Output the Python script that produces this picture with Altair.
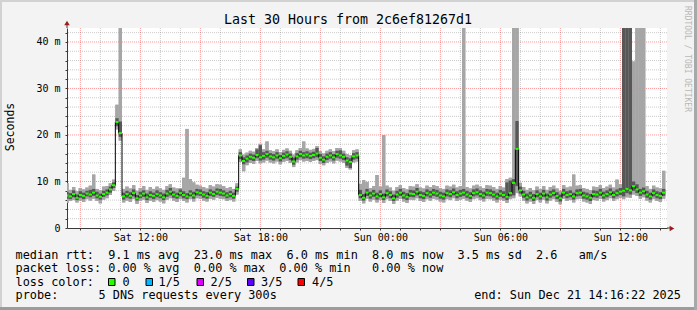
import altair as alt
import pandas as pd

FONT = "DejaVu Sans Mono"

# ---------------- text content ----------------
title_text = "Last 30 Hours from 2c6ef81267d1"
y_label = "Seconds"
watermark = "RRDTOOL / TOBI OETIKER"
rtt_line = "median rtt:  9.1 ms avg  23.0 ms max  6.0 ms min  8.0 ms now  3.5 ms sd  2.6   am/s"
loss_line = "packet loss: 0.00 % avg  0.00 % max  0.00 % min   0.00 % now"
loss_color_label = "loss color:"
loss_names = ["0", "1/5", "2/5", "3/5", "4/5"]
loss_colors = ["#26ff00", "#00b8ff", "#dd00ff", "#5e00ff", "#ff0000"]
probe_label = "probe:"
probe_text = "5 DNS requests every 300s"
end_text = "end: Sun Dec 21 14:16:22 2025"

# ---------------- data (ms), one sample per 10 minutes ----------------
first_sample = "2025-12-20 08:15:00"
step_minutes = 10

median_ms = [
    7.0, 6.8, 7.3, 6.5, 7.1, 6.9, 7.4, 7.2, 7.6, 7.0, 6.7, 7.3, 7.6, 8.3, 9.2, 22.8, 20.4,
    6.8, 7.3, 6.9, 7.5, 6.4, 7.0, 7.4, 6.6, 7.1, 6.9, 7.3, 7.0, 6.6, 7.4, 7.8, 7.2, 6.9, 7.5,
    7.1, 6.8, 7.4, 7.0, 7.7, 7.5, 7.2, 6.9, 7.6, 7.3, 7.8, 7.6, 7.4, 7.0, 7.3, 6.9, 8.4,
    15.6, 14.4, 14.9, 15.3, 15.1, 15.7, 15.2, 15.5, 15.9, 15.4, 15.2, 15.6, 15.0, 15.5, 15.8,
    15.3, 14.3, 15.4, 15.9, 15.6, 15.8, 15.5, 15.7, 16.0, 15.1, 14.7, 15.3, 15.6, 15.2, 15.9,
    15.6, 15.3, 14.5, 14.2, 15.4, 15.6,
    7.1, 6.5, 7.6, 7.0, 7.4, 6.8, 7.3, 6.6, 7.5, 7.1, 6.4, 7.2,
    7.6, 7.0, 6.7, 7.4, 7.3, 7.8, 7.1, 6.9, 7.5, 7.2,
    7.6, 7.4, 7.0, 6.8, 7.5, 7.3, 7.7, 7.1, 7.4, 7.6,
    7.2, 6.9, 7.5, 7.7, 7.3, 7.0, 7.6, 7.5, 7.2, 6.8,
    7.4, 7.1, 6.7, 7.5, 9.7, 17.0, 8.1, 7.2, 6.6, 7.0,
    6.5, 7.3, 6.8, 7.4, 6.6, 7.2, 7.5, 6.9, 6.4, 7.6,
    7.1, 7.3, 6.8, 7.5, 7.6, 7.0, 6.8, 6.5, 7.3, 7.2,
    7.6, 7.0, 7.3, 7.7, 7.1, 7.5, 7.8, 8.0, 8.4, 8.1,
    9.0, 8.3, 7.6, 7.9, 7.2, 6.8, 7.5, 7.1, 6.9, 7.6,
]

dark_low = [
    6.3, 6.2, 6.6, 6.0, 6.5, 6.2, 6.8, 6.6, 6.9, 6.4, 6.1, 6.7, 7.0, 7.6, 8.6, 21.9, 19.6,
    6.1, 6.5, 6.3, 6.8, 5.9, 6.4, 6.7, 6.0, 6.5, 6.2, 6.6, 6.4, 6.0, 6.7, 7.0, 6.5, 6.3, 6.8,
    6.4, 6.2, 6.8, 6.3, 7.0, 6.9, 6.5, 6.3, 6.9, 6.7, 7.1, 6.9, 6.8, 6.4, 6.6, 6.3, 7.8,
    14.8, 13.7, 14.1, 14.6, 14.4, 15.0, 14.5, 14.7, 15.1, 14.7, 14.5, 14.9, 14.3, 14.8, 15.0,
    14.6, 13.6, 14.7, 15.2, 14.9, 15.0, 14.8, 15.0, 15.2, 14.4, 14.0, 14.6, 14.9, 14.5, 15.1,
    14.9, 14.6, 13.4, 12.9, 14.7, 14.9,
    6.4, 5.9, 6.9, 6.3, 6.7, 6.1, 6.6, 6.0, 6.8, 6.4, 5.8, 6.5,
    6.9, 6.3, 6.0, 6.7, 6.6, 7.0, 6.4, 6.2, 6.8, 6.5,
    6.9, 6.7, 6.3, 6.1, 6.8, 6.6, 7.0, 6.4, 6.7, 6.9,
    6.5, 6.2, 6.8, 7.0, 6.6, 6.3, 6.9, 6.8, 6.5, 6.1,
    6.7, 6.4, 6.0, 6.8, 7.0, 9.0, 7.4, 6.5, 5.9, 6.3,
    5.8, 6.6, 6.1, 6.7, 5.9, 6.5, 6.8, 6.2, 5.7, 6.9,
    6.4, 6.6, 6.1, 6.8, 6.9, 6.3, 6.1, 5.8, 6.6, 6.5,
    6.9, 6.3, 6.6, 7.0, 6.4, 6.8, 7.1, 6.8, 7.5, 7.2,
    8.0, 7.5, 6.9, 7.2, 6.5, 6.1, 6.8, 6.4, 6.2, 6.9,
]

dark_high = [
    7.8, 7.5, 8.1, 7.2, 7.9, 7.6, 8.0, 8.2, 8.4, 7.8, 7.4, 8.0, 8.3, 8.9, 9.8, 23.6, 22.9,
    7.6, 8.0, 7.7, 8.3, 7.1, 7.8, 8.1, 7.4, 7.9, 7.6, 8.1, 7.7, 7.4, 8.2, 8.6, 7.9, 7.6, 8.3,
    7.9, 7.5, 8.1, 7.8, 8.4, 8.3, 7.9, 7.7, 8.3, 8.0, 8.5, 8.4, 8.1, 7.7, 8.0, 7.6, 8.9,
    16.3, 15.2, 15.6, 16.0, 15.8, 16.9, 17.8, 16.3, 16.6, 16.1, 15.9, 16.3, 15.7, 16.2, 16.5,
    16.0, 15.1, 16.1, 16.6, 16.3, 16.5, 16.2, 16.4, 17.2, 15.9, 15.4, 16.0, 16.3, 15.9, 16.6,
    16.7, 16.0, 15.2, 15.0, 16.1, 16.3,
    8.2, 7.3, 8.4, 7.8, 8.2, 7.6, 8.1, 7.4, 8.3, 7.9, 7.2, 8.0,
    8.4, 7.8, 7.5, 8.2, 8.1, 8.6, 7.9, 7.7, 8.3, 8.0,
    8.4, 8.2, 7.8, 7.6, 8.3, 8.1, 8.5, 7.9, 8.2, 8.4,
    8.0, 7.7, 8.3, 8.5, 8.1, 7.8, 8.4, 8.3, 8.0, 7.6,
    8.2, 7.9, 9.8, 10.2, 10.5, 23.0, 8.9, 8.0, 7.4, 7.8,
    7.3, 8.1, 7.6, 8.2, 7.4, 8.0, 8.3, 7.7, 7.2, 8.4,
    7.9, 8.1, 7.6, 8.3, 8.4, 7.8, 7.6, 7.3, 8.1, 8.0,
    8.4, 7.8, 8.1, 8.5, 7.9, 8.3, 8.6, 50.0, 50.0, 50.0,
    10.0, 9.4, 8.4, 8.7, 8.0, 7.6, 8.3, 7.9, 7.7, 8.4,
]

smoke_low = [
    5.4, 5.8, 6.0, 5.5, 5.9, 5.6, 6.2, 5.9, 6.3, 5.8, 5.3, 6.1, 6.4, 7.1, 8.0, 21.2, 18.8,
    5.5, 5.9, 5.6, 6.2, 5.2, 5.8, 6.1, 5.4, 5.9, 5.6, 6.0, 5.7, 5.3, 6.1, 6.4, 5.9, 5.6, 6.2,
    5.8, 5.5, 6.2, 5.7, 6.4, 6.3, 5.9, 5.7, 6.3, 6.1, 6.5, 6.3, 6.2, 5.8, 6.0, 5.7, 7.2,
    14.2, 12.2, 13.5, 14.0, 13.8, 14.4, 13.9, 14.1, 14.5, 14.1, 13.9, 14.3, 13.7, 14.2, 14.4,
    14.0, 13.1, 14.1, 14.6, 14.3, 14.4, 14.2, 14.4, 14.6, 13.8, 13.5, 14.0, 14.3, 13.9, 14.5,
    14.3, 14.0, 12.9, 12.6, 14.1, 14.3,
    5.8, 5.3, 6.3, 5.7, 6.1, 5.5, 6.0, 5.4, 6.2, 5.8, 5.2, 5.9,
    6.3, 5.7, 5.4, 6.1, 6.0, 6.4, 5.8, 5.6, 6.2, 5.9,
    6.3, 6.1, 5.7, 5.5, 6.2, 6.0, 6.4, 5.8, 6.1, 6.3,
    5.9, 5.6, 6.2, 6.4, 6.0, 5.7, 6.3, 6.2, 5.9, 5.5,
    6.1, 5.8, 5.4, 6.2, 6.4, 7.5, 6.8, 5.9, 5.3, 5.7,
    5.2, 6.0, 5.5, 6.1, 5.3, 5.9, 6.2, 5.6, 5.1, 6.3,
    5.8, 6.0, 5.5, 6.2, 6.3, 5.7, 5.5, 5.2, 6.0, 5.9,
    6.3, 5.7, 6.0, 6.4, 5.8, 6.2, 6.5, 6.2, 6.6, 6.5,
    7.2, 6.9, 6.3, 6.6, 5.9, 5.5, 6.2, 5.8, 5.6, 6.3,
]

smoke_high = [
    9.7, 8.2, 8.8, 7.9, 8.6, 8.3, 8.7, 9.1, 11.5, 8.4, 8.1, 8.9, 9.0, 9.6, 10.4, 26.5, 50.0,
    8.4, 8.9, 8.5, 9.2, 8.0, 8.6, 9.0, 8.2, 8.8, 8.4, 8.9, 8.5, 8.2, 9.0, 9.4, 8.7, 8.5, 8.6,
    10.8, 21.3, 10.5, 9.8, 9.3, 9.1, 8.8, 8.5, 9.2, 8.9, 9.4, 9.3, 9.0, 8.6, 8.8, 8.4, 9.6,
    16.9, 15.8, 16.2, 16.6, 16.4, 17.2, 18.1, 16.9, 18.6, 16.7, 16.5, 16.9, 16.3, 16.8, 17.1,
    16.6, 15.8, 16.7, 17.2, 18.6, 17.1, 16.8, 17.0, 17.6, 16.5, 16.0, 16.6, 16.9, 16.5, 17.2,
    17.2, 16.6, 15.9, 15.7, 16.7, 16.9,
    9.5, 10.3, 9.9, 8.6, 9.0, 11.4, 8.9, 20.0, 9.1, 8.7, 8.0, 8.8,
    9.2, 8.6, 8.3, 9.0, 8.9, 9.4, 8.7, 8.5, 9.1, 8.8,
    9.2, 9.0, 8.6, 8.4, 9.1, 8.9, 9.3, 8.7, 9.0, 50.0,
    8.8, 8.5, 9.1, 9.3, 8.9, 8.6, 9.2, 9.1, 8.8, 8.4,
    9.0, 8.7, 10.5, 10.8, 50.0, 50.0, 9.7, 8.8, 8.2, 8.6,
    8.1, 8.9, 8.4, 9.0, 8.2, 8.8, 9.1, 8.5, 8.0, 9.2,
    8.7, 8.9, 11.5, 9.1, 9.2, 8.6, 8.4, 8.1, 8.9, 8.8,
    9.2, 8.6, 8.9, 9.3, 8.7, 10.4, 9.4, 50.0, 50.0, 50.0,
    35.8, 50.0, 50.0, 50.0, 9.0, 8.4, 9.1, 8.7, 8.5, 12.3,
]

# ---------------- build tables ----------------
t0 = pd.Timestamp(first_sample)
step = pd.Timedelta(minutes=step_minutes)
starts = [t0 + step * i for i in range(len(median_ms))]
df = pd.DataFrame({
    "t": starts,
    "t2": [s + step for s in starts],
    "med": median_ms,
    "dlo": dark_low,
    "dhi": dark_high,
    "lo": smoke_low,
    "hi": smoke_high,
})

hours = pd.date_range("2025-12-20 09:00", "2025-12-21 14:00", freq="h")
grid_x = pd.DataFrame({"h": hours, "major": [h.hour % 3 == 0 for h in hours]})
grid_y = pd.DataFrame({"v": list(range(2, 43, 2))})
grid_y["major"] = grid_y["v"] % 10 == 0


def dt(ts):
    return alt.DateTime(year=ts.year, month=ts.month, date=ts.day, hours=ts.hour, minutes=ts.minute)


x_scale = alt.Scale(domain=[dt(pd.Timestamp("2025-12-20 08:20")), dt(pd.Timestamp("2025-12-21 14:20"))])
y_scale = alt.Scale(domain=[0, 43], nice=False, zero=False)

AXIS_COLOR = "#3a3a3a"
x_axis = alt.Axis(
    values=[dt(h) for h in hours],
    labelExpr="hours(datum.value) % 6 == 0 ? timeFormat(datum.value, '%a %H:%M') : ''",
    title=None, grid=False, tickSize=2, labelPadding=2, labelOverlap=False,
    labelFont=FONT, labelFontSize=10, labelColor="#000000",
    domainColor=AXIS_COLOR, tickColor=AXIS_COLOR, labelFlush=False,
)
y_axis = alt.Axis(
    values=list(range(0, 43, 2)),
    labelExpr="datum.value == 0 ? '0' : (datum.value % 10 == 0 ? datum.value + ' m' : '')",
    title=None, grid=False, tickSize=2, labelPadding=5, labelOverlap=False,
    labelFont=FONT, labelFontSize=10, labelColor="#000000",
    domainColor=AXIS_COLOR, tickColor=AXIS_COLOR,
)

# ---------------- layout constants (pixels) ----------------
OX, OY = 67, 28          # plot origin on the canvas
PW, PH = 600, 200        # plot size
W, H = 697, 310


def px(x):
    return x - OX


def py(y):
    return y - OY


one = pd.DataFrame({"k": [0]})
NBSP = "\u00a0"


def text(s, x, y, size, color="#000000", align="left", angle=None, baseline="alphabetic"):
    kw = dict(text=s.replace(" ", NBSP), font=FONT, fontSize=size, color=color, align=align, baseline=baseline)
    if angle is not None:
        kw["angle"] = angle
    return alt.Chart(one).mark_text(**kw).encode(x=alt.value(px(x)), y=alt.value(py(y)))


def hrule(x1, x2, y, color, width):
    return alt.Chart(one).mark_rule(color=color, strokeWidth=width).encode(
        x=alt.value(px(x1)), x2=alt.value(px(x2)), y=alt.value(py(y)))


def vrule(x, y1, y2, color, width):
    return alt.Chart(one).mark_rule(color=color, strokeWidth=width).encode(
        x=alt.value(px(x)), y=alt.value(py(y1)), y2=alt.value(py(y2)))


def X(field):
    return alt.X(field, scale=x_scale, axis=x_axis)


def Y(field):
    return alt.Y(field, scale=y_scale, axis=y_axis)


MINOR = "rgba(128,128,128,0.42)"
MAJOR = "rgba(255,0,0,0.40)"

layers = []
# smoke (first layer carries the axes)
layers.append(alt.Chart(df).mark_rect(color="#a6a6a6", clip=True).encode(
    x=X("t:T"), x2="t2:T", y=Y("lo:Q"), y2="hi:Q"))
# grid (drawn over the white background; smoke is redrawn above)
layers.append(alt.Chart(grid_y[~grid_y.major]).mark_rule(color=MINOR, strokeDash=[1, 1], strokeWidth=1).encode(
    y=Y("v:Q")))
layers.append(alt.Chart(grid_x[~grid_x.major]).mark_rule(color=MINOR, strokeDash=[1, 1], strokeWidth=1).encode(
    x=X("h:T")))
layers.append(alt.Chart(grid_y[grid_y.major]).mark_rule(color=MAJOR, strokeDash=[1, 1], strokeWidth=1).encode(
    y=Y("v:Q")))
layers.append(alt.Chart(grid_x[grid_x.major]).mark_rule(color=MAJOR, strokeDash=[1, 1], strokeWidth=1).encode(
    x=X("h:T")))
layers.append(alt.Chart(df).mark_rect(color="#a6a6a6", clip=True).encode(
    x=X("t:T"), x2="t2:T", y=Y("lo:Q"), y2="hi:Q"))
layers.append(alt.Chart(df).mark_rect(color="#575757", clip=True).encode(
    x=X("t:T"), x2="t2:T", y=Y("dlo:Q"), y2="dhi:Q"))
# median: black connectors + green level ticks
layers.append(alt.Chart(df).mark_line(color="#000000", strokeWidth=1, interpolate="step-after", clip=True).encode(
    x=X("t:T"), y=Y("med:Q")))
layers.append(alt.Chart(df).mark_rule(color=loss_colors[0], strokeWidth=2, clip=True).encode(
    x=X("t:T"), x2="t2:T", y=Y("med:Q")))

# axis extensions and arrows
layers.append(hrule(OX + PW, OX + PW + 4, OY + PH, AXIS_COLOR, 1))
layers.append(vrule(OX, OY - 3, OY, AXIS_COLOR, 1))
layers.append(alt.Chart(one).mark_point(shape="triangle-right", filled=True, size=30, color="#9b1c1c", opacity=1).encode(
    x=alt.value(px(672)), y=alt.value(py(228.5))))
layers.append(alt.Chart(one).mark_point(shape="triangle-up", filled=True, size=30, color="#9b1c1c", opacity=1).encode(
    x=alt.value(px(67)), y=alt.value(py(23))))

# texts
layers.append(text(title_text, 348, 24, 13.3, align="center"))
layers.append(text(y_label, 14, 127, 11.5, align="center", angle=270))
layers.append(text(watermark, 684.5, 59, 8, color="#b8b8b8", align="center", angle=90))
layers.append(text(rtt_line, 15.5, 258.7, 11.85))
layers.append(text(loss_line, 15.5, 272, 11.85))
layers.append(text(loss_color_label, 15.5, 286, 11.85))
layers.append(text(probe_label, 15.5, 299.3, 11.85))
layers.append(text(probe_text, 98.5, 299.3, 11.85))
layers.append(text(end_text, 681, 299.3, 11.85, align="right"))

box_left = [108, 145.5, 196.5, 247, 297.5]
label_left = [122.5, 158.5, 210.5, 261, 312]
for name, col, bx, lx in zip(loss_names, loss_colors, box_left, label_left):
    layers.append(alt.Chart(one).mark_rect(fill=col, stroke="#000000", strokeWidth=1).encode(
        x=alt.value(px(bx + 0.5)), x2=alt.value(px(bx + 7)),
        y=alt.value(py(278.5)), y2=alt.value(py(285.5))))
    layers.append(text(name, lx, 286, 11.85))

# frame
layers.append(hrule(0, W, 1, "#d2d2d2", 2))
layers.append(vrule(1, 0, H, "#d2d2d2", 2))
layers.append(hrule(0, W, 308.5, "#9c9c9c", 3))
layers.append(vrule(695.5, 0, H, "#a8a8a8", 3))

chart = alt.layer(*layers).properties(
    width=PW, height=PH,
    padding={"left": OX, "top": OY, "right": W - OX - PW, "bottom": H - OY - PH},
    autosize=alt.AutoSizeParams(type="none"),
    background="#f3f3f3",
).configure_view(fill="#ffffff", stroke=None)

chart.save("out.html", embed_options={"renderer": "svg", "actions": False})
